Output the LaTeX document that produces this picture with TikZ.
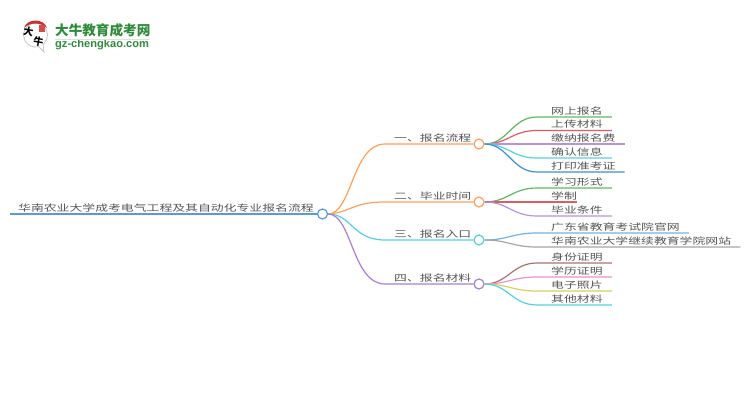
\documentclass[tikz,border=0pt]{standalone}
\usepackage{graphicx}
\usepackage{fontspec}
\setmainfont{Noto Sans CJK SC}
\newfontfamily\logolatin{Liberation Sans}
\definecolor{orangeline}{HTML}{FF9F55}
\definecolor{cyanline}{HTML}{4FD3E3}
\definecolor{purpleline}{HTML}{A97FD3}
\definecolor{rootline}{HTML}{5A9BD5}
\definecolor{greenline}{HTML}{5DB85C}
\definecolor{redline}{HTML}{E05A64}
\definecolor{lilacline}{HTML}{B892DC}
\definecolor{blueline}{HTML}{3F8FCF}
\definecolor{skyline}{HTML}{72B2DC}
\definecolor{grayline}{HTML}{A5A5A5}
\definecolor{brownline}{HTML}{A8736C}
\definecolor{pinkline}{HTML}{F08FCB}
\definecolor{yellowline}{HTML}{D8D060}
\definecolor{logogreen}{HTML}{2E8B3A}
\definecolor{logored}{HTML}{C8302A}
\definecolor{labeltext}{HTML}{555555}
\newcommand{\squat}[1]{\scalebox{1}[0.7]{#1}}
\tikzset{
  topic/.style={anchor=south west, inner ysep=0pt, text height=9pt, text depth=2.75pt, text=labeltext, font=\fontsize{12.85}{14}\selectfont},
  leaf/.style={topic, inner xsep=0pt, align=left},
  dot/.style={circle, draw, fill=white, line width=1.2pt, minimum size=10pt, inner sep=0pt},
  rootbar/.style={line width=1.5pt},
  branch/.style={line width=1.2pt},
  twig/.style={line width=1.2pt}
}
\begin{document}
\begin{tikzpicture}[x=1pt,y=-1pt]
\useasboundingbox (0,0) rectangle (750,410);

\node[topic, inner sep=0pt] at (10,214) (rootlbl) {\hspace{8pt}\squat{华南农业大学成考电气工程及其自动化专业报名流程}\hspace{3pt}};

\node[topic, inner sep=0pt] at (385,144) (lbl1) {\hspace{9pt}\squat{一、报名流程}\hspace{4pt}};
\node[topic, inner sep=0pt] at (385,202) (lbl2) {\hspace{9pt}\squat{二、毕业时间}\hspace{4pt}};
\node[topic, inner sep=0pt] at (385,240) (lbl3) {\hspace{9pt}\squat{三、报名入口}\hspace{4pt}};
\node[topic, inner sep=0pt] at (385,284) (lbl4) {\hspace{9pt}\squat{四、报名材料}\hspace{4pt}};

\node[leaf] at (537,117) (a1) {\hspace{14pt}\squat{网上报名}\hspace{9pt}};
\node[leaf] at (537,130.5) (a2) {\hspace{14pt}\squat{上传材料}\hspace{9pt}};
\node[leaf] at (537,144) (a3) {\hspace{14pt}\squat{缴纳报名费}\hspace{9pt}};
\node[leaf] at (537,158) (a4) {\hspace{14pt}\squat{确认信息}\hspace{9pt}};
\node[leaf] at (537,172) (a5) {\hspace{14pt}\squat{打印准考证}\hspace{9pt}};
\node[leaf] at (537,188) (c1) {\hspace{14pt}\squat{学习形式}\hspace{9pt}};
\node[leaf] at (537,202) (c2) {\hspace{14pt}\squat{学制}};
\node[leaf] at (537,216) (c3) {\hspace{14pt}\squat{毕业条件}\hspace{9pt}};
\node[leaf] at (537,233) (d1) {\hspace{14pt}\squat{广东省教育考试院官网}\hspace{9pt}};
\node[leaf] at (537,247) (d2) {\hspace{14pt}\squat{华南农业大学继续教育学院网站}\hspace{9pt}};
\node[leaf] at (537,263) (e1) {\hspace{14pt}\squat{身份证明}\hspace{9pt}};
\node[leaf] at (537,277) (e2) {\hspace{14pt}\squat{学历证明}\hspace{9pt}};
\node[leaf] at (537,291) (e3) {\hspace{14pt}\squat{电子照片}\hspace{9pt}};
\node[leaf] at (537,305) (e4) {\hspace{14pt}\squat{其他材料}\hspace{9pt}};

\node[dot, draw=rootline] at (322.5,214) (root) {};
\node[dot, draw=orangeline] at (479,144) (b1) {};
\node[dot, draw=orangeline] at (479,202) (b2) {};
\node[dot, draw=cyanline] at (479,240) (b3) {};
\node[dot, draw=purpleline] at (479,284) (b4) {};

\draw[rootbar, rootline] (rootlbl.south west) -- (root.west);
\draw[branch, orangeline] (root.east) .. controls (352,214) and (352,144) .. (lbl1.south west) -- (b1.west);
\draw[branch, orangeline] (root.east) .. controls (352,212) and (352,202) .. (lbl2.south west) -- (b2.west);
\draw[branch, cyanline] (root.east) .. controls (352,214) and (352,240) .. (lbl3.south west) -- (b3.west);
\draw[branch, purpleline] (root.east) .. controls (352,214) and (352,284) .. (lbl4.south west) -- (b4.west);

\draw[twig, greenline] (b1.east) .. controls (508,144) and (512,117) .. (a1.south west) -- (a1.south east);
\draw[twig, redline] (b1.east) .. controls (508,144) and (512,130.5) .. (a2.south west) -- (a2.south east);
\draw[twig, lilacline] (b1.east) -- (a3.south east);
\draw[twig, cyanline] (b1.east) .. controls (508,144) and (512,158) .. (a4.south west) -- (a4.south east);
\draw[twig, blueline] (b1.east) .. controls (508,144) and (512,172) .. (a5.south west) -- (a5.south east);
\draw[twig, greenline] (b2.east) .. controls (508,202) and (512,188) .. (c1.south west) -- (c1.south east);
\draw[twig, redline] (b2.east) -- (c2.south east);
\draw[twig, lilacline] (b2.east) .. controls (508,202) and (512,216) .. (c3.south west) -- (c3.south east);
\draw[twig, skyline] (b3.east) .. controls (508,240) and (512,233) .. (d1.south west) -- (d1.south east);
\draw[twig, grayline] (b3.east) .. controls (508,240) and (512,247) .. (d2.south west) -- (d2.south east);
\draw[twig, brownline] (b4.east) .. controls (508,284) and (512,263) .. (e1.south west) -- (e1.south east);
\draw[twig, pinkline] (b4.east) .. controls (508,284) and (512,277) .. (e2.south west) -- (e2.south east);
\draw[twig, yellowline] (b4.east) .. controls (508,284) and (512,291) .. (e3.south west) -- (e3.south east);
\draw[twig, cyanline] (b4.east) .. controls (508,284) and (512,305) .. (e4.south west) -- (e4.south east);

% logo
\draw[gray!45, line width=0.8pt, fill=white] (35.5,35) circle (12pt);
\draw[gray!45, line width=0.8pt, fill=white] (38,46) -- (44,52) -- (43,44);
\fill[logored] (24,28) .. controls (27,18) and (44,18) .. (47,28) .. controls (41,22) and (30,22) .. (24,28);
\fill[logored!85] (39,25) rectangle (45,32);
\node[inner sep=0pt, font=\fontsize{10}{10}\selectfont\bfseries, rotate=-10] at (28.5,32) (logoda) {大};
\node[inner sep=0pt, font=\fontsize{10}{10}\selectfont\bfseries, rotate=-10] at (38.5,42) (logoniu) {牛};
\node[inner sep=0pt, anchor=west, text=logogreen, font=\fontsize{13.6}{14}\selectfont\bfseries] at (55,30) (logocn) {大牛教育成考网};
\node[inner sep=0pt, anchor=west, text=logogreen, font=\fontsize{11.1}{12}\logolatin\bfseries] at (55,45) (logoen) {gz-chengkao.com};
\coordinate (logorule) at (150,39);
\draw[gray!25, line width=0.8pt] (55,39) -- (logorule);
\end{tikzpicture}
\end{document}
